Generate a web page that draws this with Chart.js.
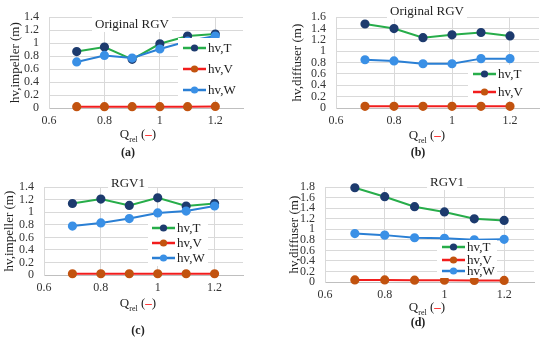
<!DOCTYPE html>
<html>
<head>
  <meta charset="utf-8">
  <title>Velocity head losses, impeller and diffuser</title>
  <script src="https://cdn.jsdelivr.net/npm/chart.js"></script>
  <style>
    body {
      margin: 0;
      background: #fff;
      font-family: "Liberation Serif", serif;
    }
    #page {
      position: relative;
      width: 550px;
      height: 337px;
    }
    canvas {
      position: absolute;
    }
    .xtitle, .caption {
      position: absolute;
      white-space: nowrap;
      color: #222;
      text-align: center;
      width: 80px;
    }
    .xtitle {
      font-size: 13px;
      line-height: 16px;
    }
    .xtitle sub {
      font-size: 8px;
    }
    .dash {
      color: #ff2020;
      font-weight: bold;
    }
    .caption {
      font-size: 12px;
      line-height: 14px;
      font-weight: bold;
    }
  </style>
</head>
<body>
  <div id="page">
    <canvas id="chartA" width="250" height="130" style="left:0px;top:0px"></canvas>
    <canvas id="chartB" width="270" height="130" style="left:275px;top:0px"></canvas>
    <canvas id="chartC" width="250" height="127" style="left:0px;top:170px"></canvas>
    <canvas id="chartD" width="265" height="134" style="left:275px;top:170px"></canvas>

    <div class="xtitle" style="left:98px;top:126px">Q<sub>rel</sub> (<span class="dash">–</span>)</div>
    <div class="caption" style="left:88px;top:145px">(a)</div>
    <div class="xtitle" style="left:387px;top:127px">Q<sub>rel</sub> (<span class="dash">–</span>)</div>
    <div class="caption" style="left:378px;top:145px">(b)</div>
    <div class="xtitle" style="left:98px;top:295px">Q<sub>rel</sub> (<span class="dash">–</span>)</div>
    <div class="caption" style="left:98px;top:323px">(c)</div>
    <div class="xtitle" style="left:387px;top:299px">Q<sub>rel</sub> (<span class="dash">–</span>)</div>
    <div class="caption" style="left:378px;top:315px">(d)</div>
  </div>
  <script>
    // flow rate points, shared by all four panels
    const qRel = [0.7, 0.8, 0.9, 1.0, 1.1, 1.2];
    const xTicks = [0.6, 0.8, 1.0, 1.2];

    // (a) impeller, original RGV
    const aT = [0.87, 0.94, 0.75, 0.99, 1.11, 1.14];
    const aV = [0.02, 0.02, 0.02, 0.02, 0.02, 0.025];
    const aW = [0.71, 0.81, 0.77, 0.91, 1.03, 1.11];
    // (b) diffuser, original RGV
    const bT = [1.48, 1.40, 1.24, 1.29, 1.33, 1.27];
    const bV = [0.03, 0.03, 0.03, 0.03, 0.03, 0.03];
    const bW = [0.85, 0.83, 0.78, 0.78, 0.87, 0.87];
    // (c) impeller, RGV1
    const cT = [1.14, 1.21, 1.11, 1.23, 1.10, 1.14];
    const cV = [0.02, 0.02, 0.02, 0.02, 0.02, 0.02];
    const cW = [0.78, 0.83, 0.90, 0.99, 1.02, 1.10];
    // (d) diffuser, RGV1
    const dT = [1.79, 1.62, 1.43, 1.33, 1.20, 1.17];
    const dV = [0.04, 0.04, 0.035, 0.035, 0.03, 0.03];
    const dW = [0.92, 0.89, 0.84, 0.83, 0.80, 0.81];

    const seriesNames = ['hv,T', 'hv,V', 'hv,W'];
    const lineColors = ['#27ad4a', '#f21d1d', '#2a7fd4'];
    const markerColors = ['#1d3b6e', '#c2530f', '#3a90e6'];
    const FONT = '"Liberation Serif", serif';

    function fmt(v) {
      return String(Number(v.toFixed(1)));
    }

    // chart title with a white box behind it, and the legend inside the plot
    const overlayPlugin = {
      id: 'overlay',
      afterDraw(chart, args, opts) {
        const ctx = chart.ctx;
        ctx.save();
        // legend
        const lg = opts.legend;
        ctx.fillStyle = '#fff';
        ctx.fillRect(lg.box[0], lg.box[1], lg.box[2], lg.box[3]);
        ctx.font = '13px ' + FONT;
        ctx.textBaseline = 'middle';
        lg.rows.forEach((y, i) => {
          const ds = chart.data.datasets[lg.show[i]];
          ctx.strokeStyle = ds.borderColor;
          ctx.lineWidth = 2.5;
          ctx.beginPath();
          ctx.moveTo(lg.x, y);
          ctx.lineTo(lg.x + 23, y);
          ctx.stroke();
          ctx.fillStyle = ds.pointBackgroundColor;
          ctx.beginPath();
          ctx.arc(lg.x + 11.5, y, 3.6, 0, Math.PI * 2);
          ctx.fill();
          ctx.fillStyle = '#222';
          ctx.textAlign = 'left';
          ctx.fillText(ds.label, lg.x + 25, y + 1);
        });
        // title
        const t = opts.title;
        ctx.font = '13px ' + FONT;
        const w = ctx.measureText(t.text).width;
        ctx.fillStyle = '#fff';
        ctx.fillRect(t.x - w / 2 - 3, t.y - 8, w + 6, 16);
        ctx.fillStyle = '#222';
        ctx.textAlign = 'center';
        ctx.fillText(t.text, t.x, t.y + 1);
        ctx.restore();
      }
    };

    function makeChart(id, T, V, W, yMax, yTitle, yTitlePad, yWidth, padding, title, legend) {
      const values = [T, V, W];
      const orders = [3, 2, 1];
      const datasets = values.map((vals, i) => ({
        label: seriesNames[i],
        data: qRel.map((q, j) => ({ x: q, y: vals[j] })),
        borderColor: lineColors[i],
        backgroundColor: markerColors[i],
        pointBackgroundColor: markerColors[i],
        pointBorderColor: markerColors[i],
        pointRadius: 3.6,
        borderWidth: 2,
        order: orders[i],
        showLine: true,
        clip: false,
        tension: 0
      }));

      return new Chart(document.getElementById(id), {
        type: 'scatter',
        data: { datasets: datasets },
        options: {
          responsive: false,
          animation: false,
          layout: { padding: padding },
          plugins: {
            legend: { display: false },
            tooltip: { enabled: false },
            overlay: { title: title, legend: legend }
          },
          scales: {
            x: {
              type: 'linear',
              min: 0.6,
              max: 1.3,
              afterBuildTicks: s => { s.ticks = xTicks.map(v => ({ value: v })); },
              afterFit: s => { s.height = 22; },
              ticks: {
                padding: 6,
                autoSkip: false,
                maxRotation: 0,
                color: '#333',
                font: { family: FONT, size: 12 },
                callback: v => fmt(v)
              },
              grid: { color: '#d9d9d9', drawTicks: false },
              border: { color: '#bfbfbf', width: 1 }
            },
            y: {
              min: 0,
              max: yMax,
              afterBuildTicks: s => {
                const t = [];
                for (let k = 0; k <= Math.round(yMax / 0.2); k++) t.push({ value: k * 0.2 });
                s.ticks = t;
              },
              afterFit: s => { s.width = yWidth; },
              ticks: {
                padding: 10,
                autoSkip: false,
                color: '#333',
                font: { family: FONT, size: 12 },
                callback: v => fmt(v)
              },
              grid: { color: '#d9d9d9', drawTicks: false },
              border: { color: '#d9d9d9', width: 1 },
              title: {
                display: true,
                text: yTitle,
                color: '#222',
                font: { family: FONT, size: 13 },
                padding: { top: yTitlePad, bottom: 0 }
              }
            }
          }
        },
        plugins: [overlayPlugin]
      });
    }

    makeChart('chartA', aT, aV, aW, 1.4, 'hv,impeller (m)', 8, 49,
      { top: 8, right: 7, left: 0, bottom: 0 },
      { text: 'Original RGV', x: 132, y: 24 },
      { x: 183, rows: [48, 69, 90], show: [0, 1, 2], box: [178, 38, 65, 62] });

    makeChart('chartB', bT, bV, bW, 1.6, 'hv,diffuser (m)', 15, 61,
      { top: 16, right: 5, left: 0, bottom: 0 },
      { text: 'Original RGV', x: 152, y: 11 },
      { x: 198, rows: [74, 92], show: [0, 1], box: [193, 65, 72, 36] });

    makeChart('chartC', cT, cV, cW, 1.4, 'hv,impeller (m)', 2, 44,
      { top: 17, right: 7, left: 0, bottom: 0 },
      { text: 'RGV1', x: 128, y: 13 },
      { x: 152, rows: [58, 73, 88], show: [0, 1, 2], box: [148, 50, 60, 46] });

    makeChart('chartD', dT, dV, dW, 1.8, 'hv,diffuser (m)', 12, 50,
      { top: 11, right: 5, left: 0, bottom: 0 },
      { text: 'RGV1', x: 172, y: 12 },
      { x: 167, rows: [77, 90, 101], show: [0, 1, 2], box: [162, 70, 60, 38] });
  </script>
</body>
</html>
